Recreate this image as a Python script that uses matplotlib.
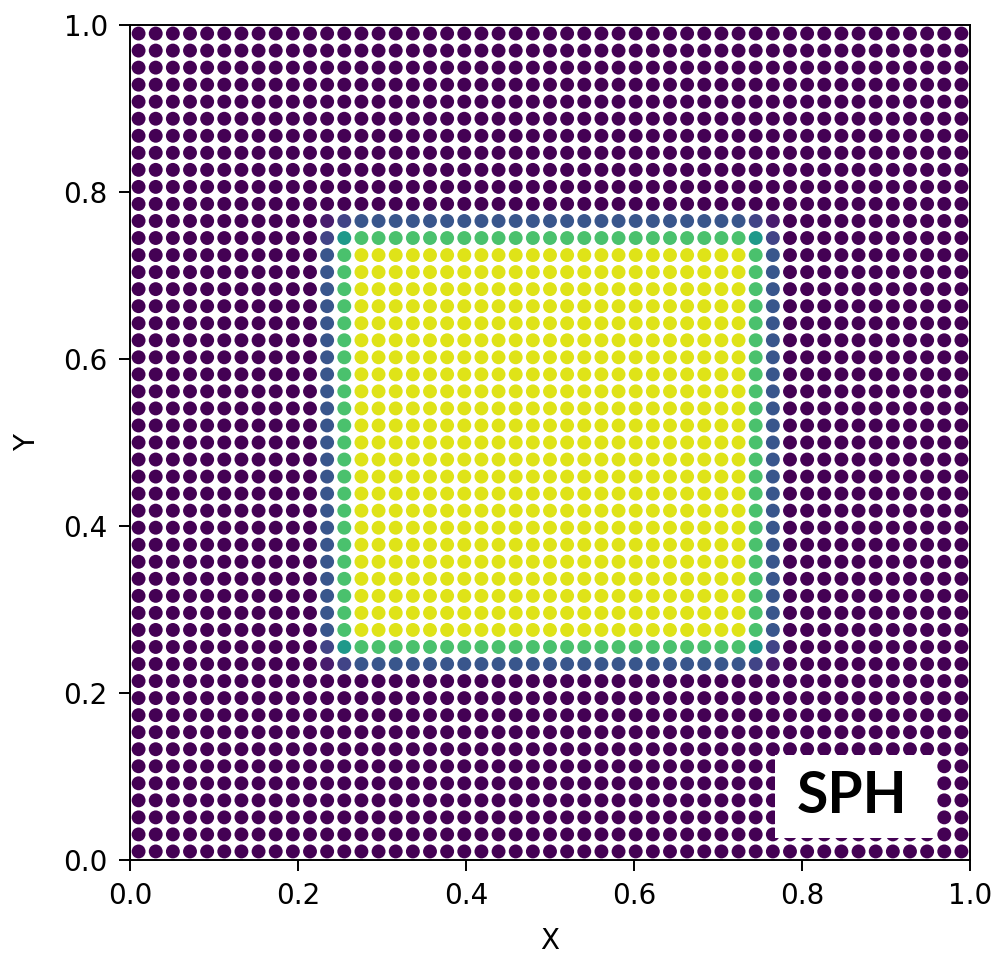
import matplotlib
matplotlib.use("Agg")
import matplotlib.pyplot as plt
from matplotlib.patches import Rectangle
import numpy as np

# particle lattice: 49 x 49 particles, cell centred on [0, 1]
n_side = 49
# smoothed concentration along one lattice line (outside 0, rings at the square edge, inside 1)
profile = [0.0] * 11 + [0.28, 0.75] + [1.0] * 23 + [0.75, 0.28] + [0.0] * 11
ticks = [0.0, 0.2, 0.4, 0.6, 0.8, 1.0]
label_text = "SPH"

pos = (np.arange(n_side) + 0.5) / n_side
xx, yy = np.meshgrid(pos, pos)
conc = np.outer(profile, profile)   # row (y) x column (x)

fig = plt.figure(figsize=(9.97, 9.55), dpi=100)
ax = fig.add_axes([0.1304, 0.0995, 0.8425, 0.8743])

ax.scatter(xx.ravel(), yy.ravel(), c=conc.ravel(), cmap="viridis",
           vmin=0.0, vmax=1.05, s=100, linewidths=0, zorder=1)

ax.set_xlim(0, 1)
ax.set_ylim(0, 1)
ax.set_xticks(ticks)
ax.set_yticks(ticks)
ax.tick_params(labelsize=20, length=8, width=1.4, pad=8)
for sp in ax.spines.values():
    sp.set_linewidth(1.4)
ax.set_xlabel("X", fontsize=20, labelpad=12)
ax.set_ylabel("Y", fontsize=20, labelpad=16)

# white label box in the lower right corner
ax.add_patch(Rectangle((0.768, 0.026), 0.19, 0.10, transform=ax.transAxes,
                       facecolor="white", edgecolor="none", zorder=4))
ax.text(0.8595, 0.0563, label_text, transform=ax.transAxes, ha="center", va="baseline",
        fontsize=41, fontweight="bold", family=["Lato", "DejaVu Sans"], zorder=5)

fig.savefig("out.png", dpi=100)
